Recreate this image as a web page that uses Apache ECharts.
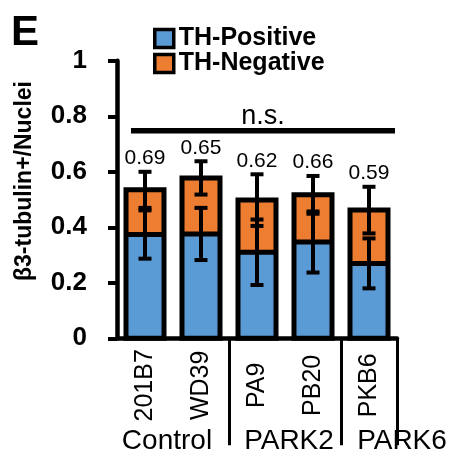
<!DOCTYPE html>
<html><head><meta charset="utf-8">
<script src="https://cdn.jsdelivr.net/npm/echarts@6/dist/echarts.min.js"></script>
<style>html,body{margin:0;padding:0;background:#fff}#c{width:450px;height:454px}</style>
</head><body><div id="c"></div>
<script>
var categories = ['201B7', 'WD39', 'PA9', 'PB20', 'PKB6'];
var groups = ['Control', 'PARK2', 'PARK6'];
var thPositive = [0.374, 0.376, 0.310, 0.347, 0.270];
var thNegative = [0.161, 0.202, 0.188, 0.170, 0.192];
var totalErr = [0.065, 0.060, 0.093, 0.068, 0.084];
var positiveErr = [0.087, 0.094, 0.118, 0.110, 0.090];
var ratioLabels = ['0.69', '0.65', '0.62', '0.66', '0.59'];
var yAxisTitle = 'β3-tubulin+/Nuclei';
var nsText = 'n.s.';
var nsLevel = 0.748;

var FONT = 'Liberation Sans, Arial, sans-serif';
var BAR_W = 38;
var totals = thPositive.map(function (v, i) { return v + thNegative[i]; });

function errRender(params, api) {
  var x = api.value(0), c = api.value(1), e = api.value(2);
  var top = api.coord([x, c + e]);
  var bot = api.coord([x, c - e]);
  var hw = 6.5;
  var st = { stroke: '#000', lineWidth: 4 };
  return {
    type: 'group',
    children: [
      { type: 'line', shape: { x1: top[0], y1: top[1], x2: bot[0], y2: bot[1] }, style: st },
      { type: 'line', shape: { x1: top[0] - hw, y1: top[1], x2: top[0] + hw, y2: top[1] }, style: st },
      { type: 'line', shape: { x1: bot[0] - hw, y1: bot[1], x2: bot[0] + hw, y2: bot[1] }, style: st }
    ]
  };
}

function outlineRender(params, api) {
  var x = api.value(0), pos = api.value(1), tot = api.value(2);
  var p0 = api.coord([x, 0]);
  var p1 = api.coord([x, pos]);
  var p2 = api.coord([x, tot]);
  var st = { stroke: '#000', lineWidth: 5, fill: null };
  return {
    type: 'group',
    children: [
      { type: 'rect', shape: { x: p0[0] - BAR_W / 2, y: p2[1], width: BAR_W, height: p0[1] - p2[1] }, style: st },
      { type: 'line', shape: { x1: p1[0] - BAR_W / 2, y1: p1[1], x2: p1[0] + BAR_W / 2, y2: p1[1] }, style: { stroke: '#000', lineWidth: 5 } }
    ]
  };
}

var chart = echarts.init(document.getElementById('c'), null, { renderer: 'canvas' });
var option = {
  animation: false,
  backgroundColor: '#fff',
  textStyle: { fontFamily: FONT },
  grid: { left: 117, right: 53, top: 60.8, bottom: 115.7 },
  legend: {
    orient: 'vertical', left: 148, top: 21, itemWidth: 19, itemHeight: 18, itemGap: 0,
    icon: 'rect',
    data: ['TH-Positive', 'TH-Negative'],
    itemStyle: { borderColor: '#000', borderWidth: 3.5 },
    textStyle: { fontFamily: FONT, fontSize: 25, fontWeight: 'bold', color: '#000', lineHeight: 25 }
  },
  xAxis: {
    type: 'category', data: categories,
    axisLine: { lineStyle: { color: '#000', width: 4.5 } },
    axisTick: {
      show: true, length: 107, inside: false,
      interval: function (i) { return i === 2 || i === 4; },
      lineStyle: { color: '#000', width: 3 }
    },
    axisLabel: {
      rotate: 90, align: 'center', verticalAlign: 'middle', margin: 47,
      fontSize: 25, color: '#000', fontFamily: FONT, interval: 0
    }
  },
  yAxis: {
    type: 'value', min: 0, max: 1, interval: 0.2,
    axisLine: { show: true, lineStyle: { color: '#000', width: 4.5 } },
    axisTick: { show: true, length: 9, lineStyle: { color: '#000', width: 4 } },
    axisLabel: { fontSize: 26, fontWeight: 'bold', color: '#000', fontFamily: FONT, margin: 30 },
    splitLine: { show: false }
  },
  series: [
    {
      name: 'TH-Positive', type: 'bar', stack: 'a', barWidth: BAR_W, data: thPositive,
      itemStyle: { color: '#5B9BD5', borderColor: '#000', borderWidth: 0 }
    },
    {
      name: 'TH-Negative', type: 'bar', stack: 'a', barWidth: BAR_W, data: thNegative,
      itemStyle: { color: '#ED7D31', borderColor: '#000', borderWidth: 0 }
    },
    {
      type: 'custom', z: 4, renderItem: outlineRender, silent: true,
      data: thPositive.map(function (v, i) { return [i, v, totals[i]]; })
    },
    {
      type: 'custom', z: 5, renderItem: errRender, silent: true,
      data: thPositive.map(function (v, i) { return [i, v, positiveErr[i]]; })
    },
    {
      type: 'custom', z: 5, renderItem: errRender, silent: true,
      data: totals.map(function (v, i) { return [i, v, totalErr[i]]; })
    },
    {
      type: 'scatter', symbolSize: 0, z: 6, silent: true,
      itemStyle: { opacity: 1 },
      data: totals.map(function (v, i) { return [i, v + totalErr[i]]; }),
      label: {
        show: true, position: 'top', distance: 3, opacity: 1,
        fontSize: 21, color: '#000', fontFamily: FONT,
        formatter: function (p) { return ratioLabels[p.dataIndex]; }
      }
    }
  ]
};
chart.setOption(option);

var x0 = chart.convertToPixel({ xAxisIndex: 0 }, 0);
var x1 = chart.convertToPixel({ xAxisIndex: 0 }, 1);
var x2 = chart.convertToPixel({ xAxisIndex: 0 }, 2);
var x3 = chart.convertToPixel({ xAxisIndex: 0 }, 3);
var x4 = chart.convertToPixel({ xAxisIndex: 0 }, 4);
var yNs = chart.convertToPixel({ yAxisIndex: 0 }, nsLevel);
var yBase = chart.convertToPixel({ yAxisIndex: 0 }, 0);

chart.setOption({
  graphic: [
    { type: 'text', left: 11, top: 12, style: { text: 'E', font: 'bold 42px ' + FONT, fill: '#000' } },
    { type: 'text', x: 25, y: 181, rotation: Math.PI / 2, style: { text: yAxisTitle, font: 'bold 23px ' + FONT, fill: '#000', align: 'center', verticalAlign: 'middle' } },
    { type: 'line', shape: { x1: x0 - 14, y1: yNs, x2: x4 + 26, y2: yNs }, style: { stroke: '#000', lineWidth: 5.5 } },
    { type: 'text', x: (x0 + x4) / 2 + 6, y: yNs - 14, style: { text: nsText, font: '27px ' + FONT, fill: '#000', align: 'center', verticalAlign: 'middle' } },
    { type: 'text', x: (x0 + x1) / 2 - 6, y: yBase + 103, style: { text: groups[0], font: '28px ' + FONT, fill: '#000', align: 'center', verticalAlign: 'middle' } },
    { type: 'text', x: (x2 + x3) / 2 + 4, y: yBase + 103, style: { text: groups[1], font: '28px ' + FONT, fill: '#000', align: 'center', verticalAlign: 'middle' } },
    { type: 'text', x: x4 + 33, y: yBase + 103, style: { text: groups[2], font: '28px ' + FONT, fill: '#000', align: 'center', verticalAlign: 'middle' } }
  ]
});
</script></body></html>
